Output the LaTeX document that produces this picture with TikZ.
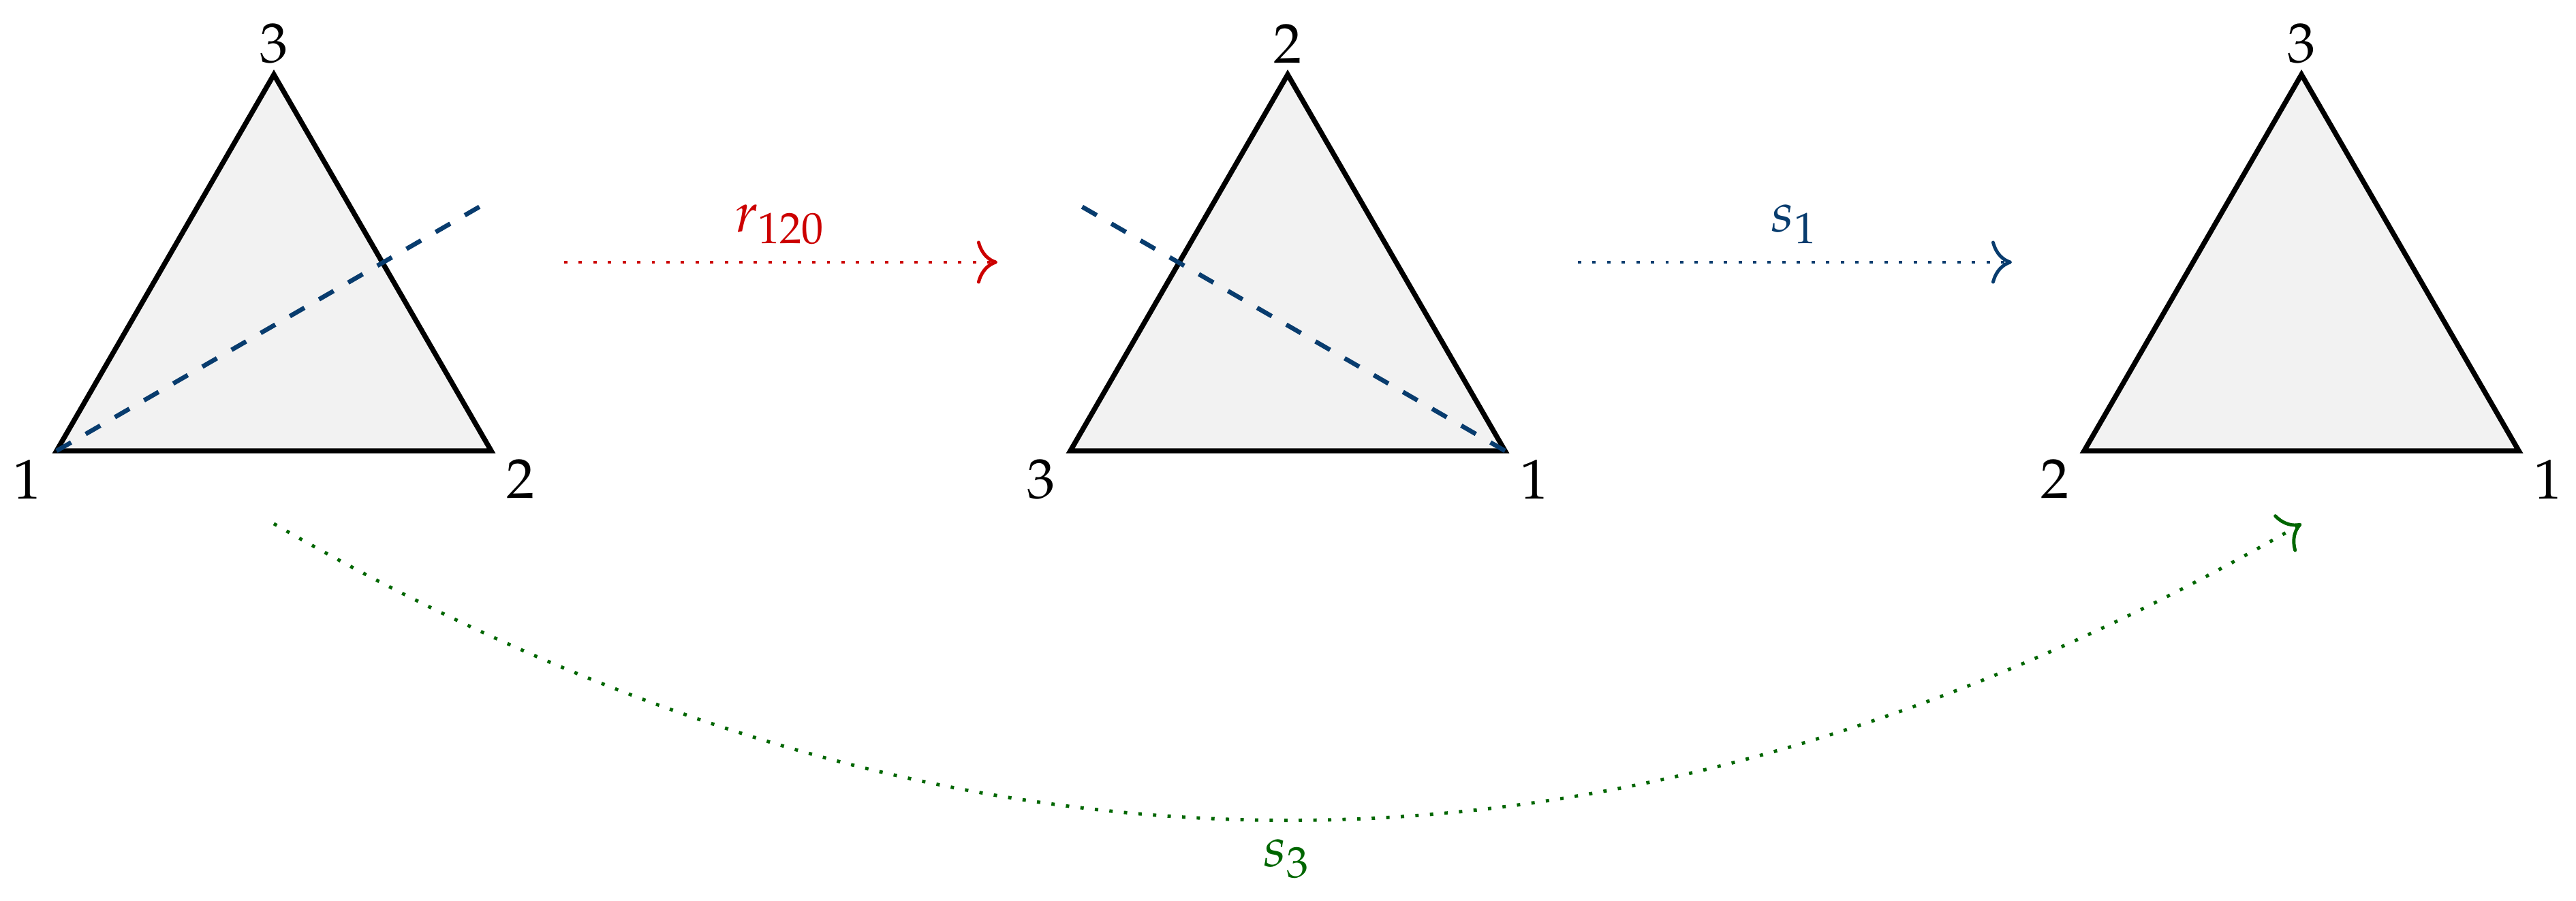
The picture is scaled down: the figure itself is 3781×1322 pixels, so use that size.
\documentclass[tikz,border=0pt]{standalone}
\usepackage{mathpazo}
\DeclareMathSizes{10}{10}{7.8}{5.5}
\usetikzlibrary{calc,arrows.meta}
\definecolor{myblue}{RGB}{8,60,110}
\definecolor{myred}{RGB}{204,0,0}
\definecolor{mygreen}{RGB}{0,102,0}
\tikzset{
  tri/.style={draw=black, fill=gray!10, line width=0.9pt, line join=miter},
  axis/.style={myblue, dashed, line width=0.8pt},
  vlab/.style={inner sep=0pt, anchor=center, font=\fontsize{10}{12}\selectfont},
  elab/.style={inner sep=0pt, anchor=base, font=\fontsize{10}{12}\selectfont},
  dotarr/.style={line width=0.6pt, dotted, -{To[scale=1.25]}},
}
\begin{document}
\begin{tikzpicture}[x=0.1214pt, y=-0.1214pt]
\useasboundingbox (0,0) rectangle (3781,1322);
% triangle 1
\coordinate (A1) at (83,662);
\coordinate (A2) at (721,662);
\coordinate (A3) at (402,109.5);
\coordinate (AX) at ($(A1)!1.3!($(A2)!0.5!(A3)$)$);
\draw[tri] (A1) -- (A2) -- (A3) -- cycle;
\draw[axis] (A1) -- (AX);
\node[vlab] (a1) at ($(A1)+(-43,42)$) {$1$};
\node[vlab] (a2) at ($(A2)+(43,42)$) {$2$};
\node[vlab] (a3) at ($(A3)+(0,-45)$) {$3$};
% triangle 2
\coordinate (B3) at (1571,662);
\coordinate (B1) at (2209,662);
\coordinate (B2) at (1890,109.5);
\coordinate (BX) at ($(B1)!1.3!($(B3)!0.5!(B2)$)$);
\draw[tri] (B3) -- (B1) -- (B2) -- cycle;
\draw[axis] (B1) -- (BX);
\node[vlab] (b3) at ($(B3)+(-43,42)$) {$3$};
\node[vlab] (b1) at ($(B1)+(43,42)$) {$1$};
\node[vlab] (b2) at ($(B2)+(0,-45)$) {$2$};
% triangle 3
\coordinate (C2) at (3059,662);
\coordinate (C1) at (3697,662);
\coordinate (C3) at (3378,109.5);
\draw[tri] (C2) -- (C1) -- (C3) -- cycle;
\node[vlab] (c2) at ($(C2)+(-43,42)$) {$2$};
\node[vlab] (c1) at ($(C1)+(43,42)$) {$1$};
\node[vlab] (c3) at ($(C3)+(0,-45)$) {$3$};
% arrows
\coordinate (R0) at (828,385);
\coordinate (R1) at (1464,385);
\draw[dotarr, myred] (R0) -- node[elab, myred, yshift=5.4pt] (rl) {$r_{120}$} (R1);
\coordinate (S0) at (2316,385);
\coordinate (S1) at (2953,385);
\draw[dotarr, myblue] (S0) -- node[elab, myblue, yshift=5.4pt] (sl) {$s_1$} (S1);
\coordinate (G0) at (402,769);
\coordinate (G1) at (3378,769);
\draw[dotarr, mygreen] (G0) to[bend right=30] node[elab, mygreen, yshift=-8.3pt] (gl) {$s_3$} (G1);
\end{tikzpicture}
\end{document}
